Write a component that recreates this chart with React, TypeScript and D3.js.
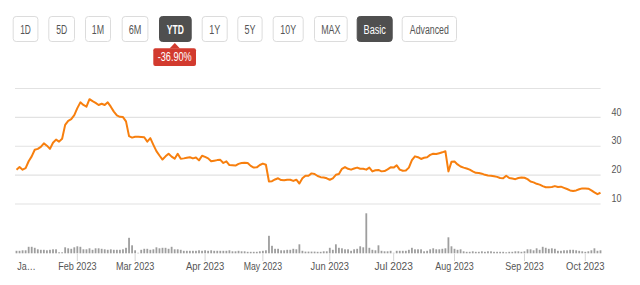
import React from "react";
import * as d3 from "d3";

// ---- Data ----
const price: number[] = [
  21.9, 22.8, 21.9, 22.4, 24.8, 26.5, 28.8, 29.1, 29.8, 31.0,
  30.2, 29.1, 31.2, 32.3, 31.6, 32.6, 37.4, 38.8, 39.4, 40.8,
  43.2, 45.2, 44.3, 43.7, 46.3, 45.6, 45.0, 44.3, 44.7, 44.3,
  45.2, 43.7, 42.0, 40.7, 40.2, 40.1, 38.6, 33.5, 33.0, 33.3,
  33.3, 33.2, 33.1, 31.6, 32.8, 30.5, 28.3, 26.8, 25.4, 26.5,
  27.4, 26.4, 25.7, 27.4, 25.7, 25.8, 26.0, 26.2, 25.8, 26.1,
  25.1, 26.7, 26.3, 25.8, 24.8, 25.0, 25.2, 25.3, 24.2, 24.8,
  23.5, 23.4, 23.3, 23.9, 24.2, 24.3, 24.2, 23.2, 22.6, 22.7,
  23.5, 24.0, 23.6, 17.8, 17.9, 18.5, 18.9, 18.3, 18.2, 18.4,
  18.4, 18.0, 18.4, 17.1, 18.9, 19.8, 19.8, 20.6, 20.4, 19.7,
  19.3, 19.2, 18.9, 18.4, 18.9, 20.1, 20.4, 22.2, 22.8, 22.2,
  21.9, 22.3, 22.6, 22.2, 22.2, 21.9, 22.6, 21.3, 21.7, 21.8,
  21.3, 21.4, 22.0, 22.7, 22.6, 23.4, 21.9, 21.5, 21.6, 22.6,
  25.2, 26.5, 26.2, 25.6, 26.0, 26.2, 27.0, 27.4, 27.3, 27.6,
  27.9, 28.3, 21.3, 24.6, 24.7, 23.7, 23.0, 22.6, 22.3, 21.9,
  21.3, 20.8, 20.7, 20.5, 20.1, 19.9, 19.8, 19.6, 19.4, 19.0,
  18.9, 19.8, 19.0, 18.8, 18.6, 19.0, 19.2, 19.1, 18.6, 17.8,
  17.5, 17.0, 16.7, 16.2, 15.8, 15.8, 15.9, 16.2, 15.9, 16.0,
  15.6, 15.2, 14.7, 14.5, 14.7, 15.1, 15.4, 15.4, 15.3, 14.7,
  14.0, 13.4, 13.9,
];

const volume: number[] = [
  2.5, 2.5, 3, 3, 6.5, 6.5, 5.5, 4, 3.5, 3.5,
  3, 3.5, 4, 4, 1, 1, 6, 5, 4.5, 6,
  7, 6.5, 4, 4, 5, 3.5, 5, 5, 4.5, 4,
  3.5, 4, 3.5, 3.5, 3.5, 4, 5.5, 15.5, 8, 3,
  0.5, 3.5, 4.5, 4.5, 3.5, 4, 6, 5, 5.5, 5.5,
  4.5, 6.5, 4, 4, 3.5, 2.5, 2.5, 2.5, 2.5, 2.5,
  3, 2.5, 3, 2.5, 3, 2.5, 2.5, 2.5, 2.5, 2.5,
  3, 2, 2, 2.5, 2, 2, 1.5, 1.5, 1.5, 1.5,
  2, 2.5, 3, 17.5, 7.5, 4.5, 4.5, 3, 3, 3.5,
  3.5, 4.5, 4, 9, 2.5, 1.7, 1.7, 1.7, 1.7, 1.5,
  1.5, 2, 2, 5.5, 3.5, 9, 5.5, 5, 4, 4,
  2.5, 4, 4.5, 7, 6, 40, 5.5, 3.5, 3, 8,
  2.5, 2, 2, 2.5, 0.5, 2.5, 2.5, 2.5, 2.5, 3.5,
  5.5, 4, 4, 4, 2, 2.5, 4, 5, 4, 4,
  4.5, 5, 16, 7, 4.5, 3.5, 4, 2, 1.5, 1.5,
  2, 1.5, 1.5, 2, 1.5, 2, 2, 1.5, 1.5, 1.5,
  1.5, 1, 1.5, 1.5, 2, 2, 1.5, 2, 4, 4,
  3, 5, 3.5, 6.5, 5.5, 4.5, 5, 4.5, 2.5, 2.5,
  3, 3, 3.5, 3.5, 3, 2.5, 2, 1.5, 2, 3,
  5, 2.5, 3,
];

// month tick labels and the trading-day index where each month starts
const monthLabels: string[] = ["Ja…", "Feb 2023", "Mar 2023", "Apr 2023", "May 2023", "Jun 2023", "Jul 2023", "Aug 2023", "Sep 2023", "Oct 2023"];
const monthIndex: number[] = [0, 20, 39, 62, 81, 103, 124, 144, 167, 187];

const yTicks: number[] = [10, 20, 30, 40, 50];
const yTickLabels: string[] = ["10", "20", "30", "40", ""];

const rangeButtons: string[] = ["1D", "5D", "1M", "6M", "YTD", "1Y", "5Y", "10Y", "MAX", "Basic", "Advanced"];
const activeButtons: string[] = ["YTD", "Basic"];
const changeLabel = "-36.90%";

// ---- Layout ----
const W = 640;
const H = 285;
const btnX = [12.7, 48.3, 85, 121.7, 159, 201.7, 237.3, 272.7, 314, 356.7, 401.7];
const btnW = [24.7, 25.7, 25, 25.7, 31.7, 25, 24.3, 30, 32.7, 35, 54.3];
const btnTextW = [10.7, 11, 12.3, 12.7, 17, 11, 11, 15.7, 19.3, 22.3, 39];
const FONT = "'Liberation Sans', Arial, sans-serif";

export default function App() {
  const x = d3.scaleLinear().domain([0, price.length - 1]).range([16.5, 600.5]);
  const y = d3.scaleLinear().domain([10, 50]).range([204, 88.5]);
  const vy = d3.scaleLinear().domain([0, d3.max(volume) as number]).range([253.3, 213.3]);

  const line = d3
    .line<number>()
    .x((_, i) => x(i))
    .y((d) => y(d));

  return (
    <svg
      width={W}
      height={H}
      style={{ position: "fixed", left: 0, top: 0, background: "#fff" }}
      fontFamily={FONT}
    >
      <rect x={0} y={0} width={W} height={H} fill="#fff" />
      {/* range buttons */}
      {rangeButtons.map((b, i) => {
        const active = activeButtons.includes(b);
        return (
          <g key={b}>
            <rect
              x={btnX[i] + 0.5}
              y={16.5}
              width={btnW[i]}
              height={25}
              rx={3}
              fill={active ? "#4f4f4f" : "#fff"}
              stroke={active ? "#4f4f4f" : "#dcdcdc"}
            />
            <text
              x={btnX[i] + 0.5 + btnW[i] / 2}
              y={33.5}
              textAnchor="middle"
              fontSize={12.5}
              fontWeight={b === "YTD" ? "bold" : "normal"}
              fill={active ? "#fff" : "#555"}
              textLength={btnTextW[i]}
              lengthAdjust="spacingAndGlyphs"
            >
              {b}
            </text>
          </g>
        );
      })}
      {/* change badge */}
      <g>
        <path d="M169.5,48.5 L174.8,43 L180,48.5 Z" fill="#d23a2e" />
        <rect x={153.3} y={48.3} width={42.7} height={17.7} rx={2} fill="#d23a2e" />
        <text
          x={174.7}
          y={61.3}
          textAnchor="middle"
          fontSize={12}
          fill="#fff"
          textLength={34}
          lengthAdjust="spacingAndGlyphs"
        >
          {changeLabel}
        </text>
      </g>

      {/* grid lines and y labels */}
      {yTicks.map((t, i) => (
        <g key={t}>
          <line x1={15} x2={600.6} y1={y(t)} y2={y(t)} stroke="#e2e2e2" strokeWidth={1.2} />
          {yTickLabels[i] && (
            <text
              x={611.5}
              y={y(t) - 1.8}
              fontSize={10.5}
              fill="#555"
              textLength={10}
              lengthAdjust="spacingAndGlyphs"
            >
              {yTickLabels[i]}
            </text>
          )}
        </g>
      ))}

      {/* price line */}
      <path d={line(price) || ""} fill="none" stroke="#f77f0e" strokeWidth={2} strokeLinejoin="round" />

      {/* volume bars */}
      {volume.map((v, i) => (
        <rect
          key={i}
          x={x(i) - 0.9}
          y={vy(v)}
          width={1.8}
          height={vy(0) - vy(v)}
          fill="#9e9e9e"
        />
      ))}

      {/* x axis ticks and labels */}
      {monthLabels.map((m, i) => {
        const xi = x(monthIndex[i]);
        if (i === 0) {
          return (
            <text key={m} x={17.3} y={270} fontSize={10.5} fill="#555" textLength={18.4} lengthAdjust="spacingAndGlyphs">
              {m}
            </text>
          );
        }
        return (
          <g key={m}>
            <line x1={xi} x2={xi} y1={253.5} y2={261} stroke="#d6d6d6" strokeWidth={1} />
            <text
              x={xi}
              y={270}
              textAnchor="middle"
              fontSize={10.5}
              fill="#555"
              textLength={38.4}
              lengthAdjust="spacingAndGlyphs"
            >
              {m}
            </text>
          </g>
        );
      })}
    </svg>
  );
}
